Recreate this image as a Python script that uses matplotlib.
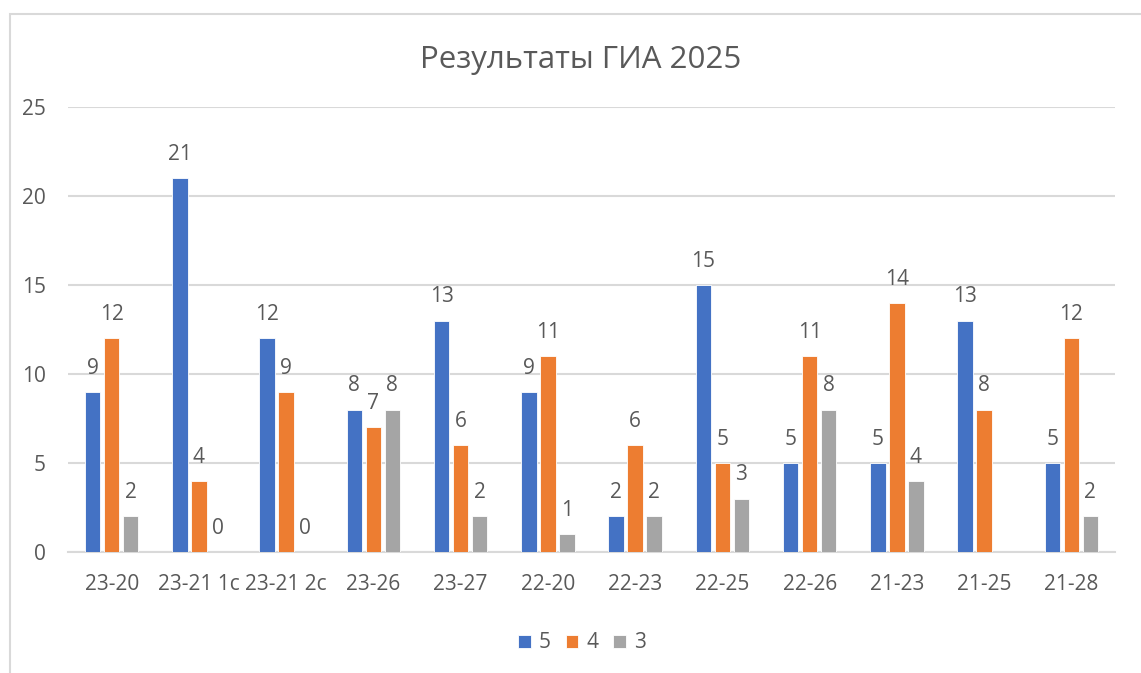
import matplotlib
matplotlib.use("Agg")
import matplotlib.pyplot as plt
from matplotlib.patches import Rectangle
import numpy as np

categories = ["23-20", "23-21 1с", "23-21 2с", "23-26", "23-27", "22-20",
              "22-23", "22-25", "22-26", "21-23", "21-25", "21-28"]
series_names = ["5", "4", "3"]
grade5 = [9, 21, 12, 8, 13, 9, 2, 15, 5, 5, 13, 5]
grade4 = [12, 4, 9, 7, 6, 11, 6, 5, 11, 14, 8, 12]
grade3 = [2, 0, 0, 8, 2, 1, 2, 3, 8, 4, None, 2]
colors = ["#4472C4", "#ED7D31", "#A5A5A5"]
yticks = [0, 5, 10, 15, 20, 25]

plt.rcParams['font.family'] = ['Open Sans', 'DejaVu Sans']
text_color = "#595959"
grid_color = "#D9D9D9"

W, H = 1141, 673
fig = plt.figure(figsize=(W / 100, H / 100), dpi=100)

# chart frame
fig.patches.append(Rectangle((10 / W, -0.1), 1.2, (H - 14) / H + 0.1,
                             transform=fig.transFigure, fill=False,
                             edgecolor=grid_color, linewidth=1.5))

ax = fig.add_axes([68 / W, (H - 552) / H, (1115 - 68) / W, (552 - 107) / H])
x = np.arange(len(categories))
step = 0.218
width = 0.18
for j, (vals, c, name) in enumerate(zip([grade5, grade4, grade3], colors, series_names)):
    xs = x + (j - 1) * step
    heights = [v if v is not None else 0 for v in vals]
    ax.bar(xs, heights, width=width, color=c, edgecolor="white",
           linewidth=0.6, label=name, zorder=3)
    for xi, v in zip(xs, vals):
        if v is None:
            continue
        ax.annotate(str(v), (xi, v), xytext=(0, 17), textcoords="offset points",
                    ha="center", va="center", fontsize=15, color=text_color)

ax.set_xlim(-0.5, len(categories) - 0.5)
ax.set_ylim(0, 25)
ax.set_yticks(yticks)
ax.set_yticklabels([str(t) for t in yticks])
ax.set_xticks(x)
ax.set_xticklabels(categories)
ax.tick_params(axis="both", length=0, labelsize=15, colors=text_color)
ax.tick_params(axis="y", pad=16)
ax.tick_params(axis="x", pad=16)
ax.yaxis.grid(True, color=grid_color, linewidth=1.5, zorder=0)
for s in ["top", "right", "left"]:
    ax.spines[s].set_visible(False)
ax.spines["bottom"].set_color(grid_color)
ax.spines["bottom"].set_linewidth(1.5)
ax.set_axisbelow(True)

fig.text(581 / W, 1 - 60 / H, "Результаты ГИА 2025", ha="center", va="center",
         fontsize=22.5, color=text_color)

fig.legend(loc="center", bbox_to_anchor=(582 / W, 1 - 643 / H), ncol=3,
           frameon=False, fontsize=15, labelcolor=text_color,
           handlelength=0.6, handleheight=0.6, handletextpad=0.4,
           columnspacing=0.7)

fig.savefig("out.png", dpi=100)
